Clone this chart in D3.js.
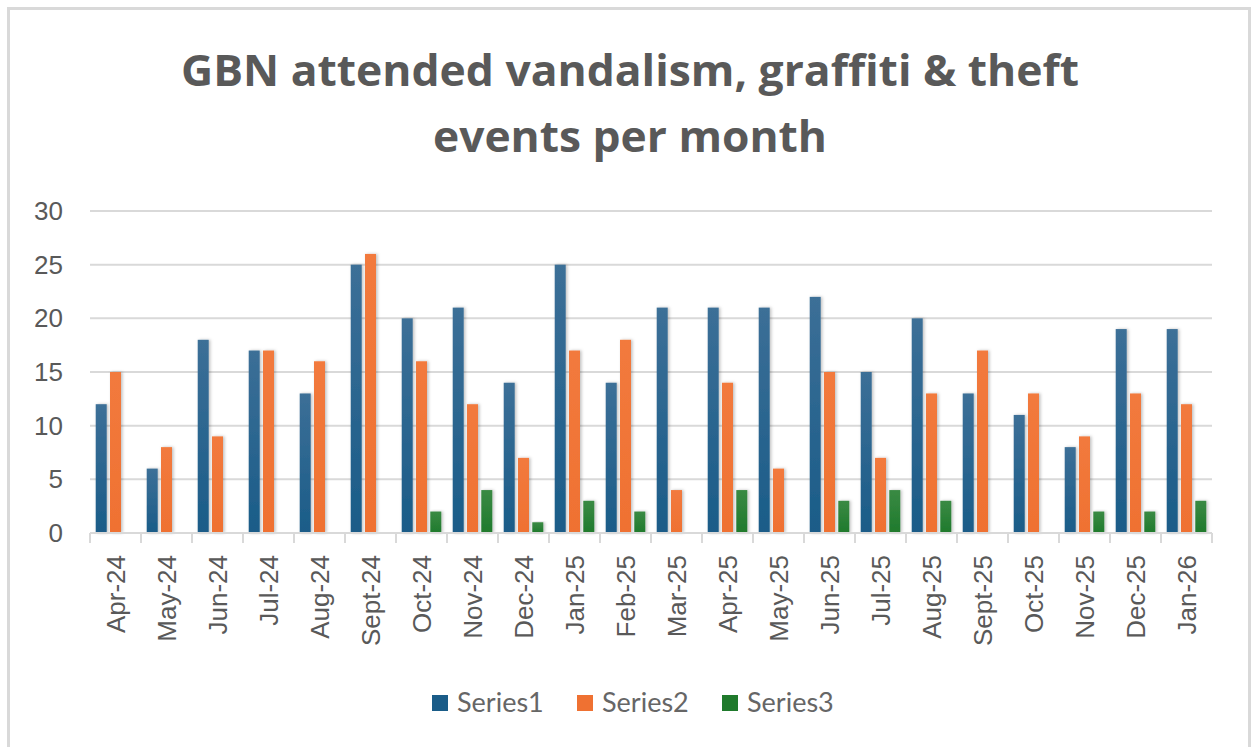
<!DOCTYPE html>
<html>
<head>
<meta charset="utf-8">
<script src="https://cdn.jsdelivr.net/npm/d3@7"></script>
<style>
  body { margin: 0; background: #fff; }
  svg { display: block; }
</style>
</head>
<body>
<div id="chart"></div>
<script>
// DATA
const months = ['Apr-24', 'May-24', 'Jun-24', 'Jul-24', 'Aug-24', 'Sept-24', 'Oct-24', 'Nov-24', 'Dec-24',
  'Jan-25', 'Feb-25', 'Mar-25', 'Apr-25', 'May-25', 'Jun-25', 'Jul-25', 'Aug-25', 'Sept-25', 'Oct-25',
  'Nov-25', 'Dec-25', 'Jan-26'];
const seriesNames = ['Series1', 'Series2', 'Series3'];
const series1 = [12, 6, 18, 17, 13, 25, 20, 21, 14, 25, 14, 21, 21, 21, 22, 15, 20, 13, 11, 8, 19, 19];
const series2 = [15, 8, 9, 17, 16, 26, 16, 12, 7, 17, 18, 4, 14, 6, 15, 7, 13, 17, 13, 9, 13, 12];
const series3 = [0, 0, 0, 0, 0, 0, 2, 4, 1, 3, 2, 0, 4, 0, 3, 4, 3, 0, 0, 2, 2, 3];
const yTicks = [0, 5, 10, 15, 20, 25, 30];
const titleLines = ['GBN attended vandalism, graffiti & theft', 'events per month'];

const allSeries = [series1, series2, series3];
const colors = ['#1a5c88', '#ef7132', '#1f7a2c'];
const colorsTop = ['#3c6f97', '#f27a3d', '#3a8a44'];

// CHART
const W = 1257, H = 747;
const margin = {left: 90, right: 45};

const svg = d3.select('#chart').append('svg')
  .attr('width', W)
  .attr('height', H);

const defs = svg.append('defs');
colors.forEach(function(c, i) {
  const g = defs.append('linearGradient')
    .attr('id', 'grad' + i)
    .attr('x1', 0).attr('y1', 0).attr('x2', 0).attr('y2', 1);
  g.append('stop').attr('offset', '0%').attr('stop-color', colorsTop[i]);
  g.append('stop').attr('offset', '100%').attr('stop-color', c);
});
const shadow = defs.append('filter').attr('id', 'shadow')
  .attr('x', '-50%').attr('y', '-10%').attr('width', '200%').attr('height', '120%');
shadow.append('feDropShadow')
  .attr('dx', 1.5).attr('dy', 0).attr('stdDeviation', 1.5)
  .attr('flood-color', '#000').attr('flood-opacity', 0.25);

// border
svg.append('rect')
  .attr('x', 8.5).attr('y', 8.5)
  .attr('width', 1241).attr('height', 760)
  .style('fill', '#fff')
  .style('stroke', '#d9d9d9')
  .style('stroke-width', 3);

// title
svg.append('g').selectAll('text')
  .data(titleLines)
  .enter().append('text')
  .attr('x', 630)
  .attr('y', function(d, i) { return 86 + i * 66; })
  .attr('text-anchor', 'middle')
  .attr('textLength', function(d, i) { return i === 0 ? 898 : 394; })
  .attr('lengthAdjust', 'spacingAndGlyphs')
  .style('font-family', '"Open Sans", "Noto Sans", sans-serif')
  .style('font-weight', 700)
  .style('font-size', '43px')
  .style('fill', '#595959')
  .text(function(d) { return d; });

const x0 = d3.scaleBand()
  .domain(months)
  .range([margin.left, W - margin.right])
  .padding(0);

const x1 = d3.scaleBand()
  .domain(seriesNames)
  .range([0, x0.bandwidth()])
  .paddingInner(0.23)
  .paddingOuter(0.4);

const y = d3.scaleLinear()
  .domain([0, 30])
  .range([533, 211]);

// gridlines
svg.append('g').selectAll('line')
  .data(yTicks.filter(function(d) { return d > 0; }))
  .enter().append('line')
  .attr('x1', x0.range()[0]).attr('x2', x0.range()[1])
  .attr('y1', function(d) { return y(d); })
  .attr('y2', function(d) { return y(d); })
  .style('stroke', '#d9d9d9')
  .style('stroke-width', 2);

// y labels
svg.append('g').selectAll('text')
  .data(yTicks)
  .enter().append('text')
  .attr('x', 63)
  .attr('y', function(d) { return y(d) + 9; })
  .attr('text-anchor', 'end')
  .style('font-family', '"Liberation Sans", Arial, sans-serif')
  .style('font-size', '26px')
  .style('fill', '#595959')
  .text(function(d) { return d; });

// bars
const groups = svg.append('g').selectAll('g')
  .data(months)
  .enter().append('g')
  .attr('transform', function(d) { return 'translate(' + x0(d) + ',0)'; });

groups.selectAll('rect')
  .data(function(d, i) {
    return seriesNames.map(function(s, j) { return {s: s, j: j, v: allSeries[j][i]}; });
  })
  .enter().append('rect')
  .filter(function(d) { return d.v > 0; })
  .attr('x', function(d) { return x1(d.s); })
  .attr('y', function(d) { return y(d.v); })
  .attr('width', x1.bandwidth())
  .attr('height', function(d) { return y(0) - y(d.v); })
  .style('fill', function(d) { return 'url(#grad' + d.j + ')'; })
  .style('filter', 'url(#shadow)');

// x axis
const xAxis = svg.append('g')
  .attr('transform', 'translate(0,' + y(0) + ')');
xAxis.append('line')
  .attr('x1', x0.range()[0]).attr('x2', x0.range()[1])
  .style('stroke', '#d9d9d9').style('stroke-width', 2);
xAxis.selectAll('.tick')
  .data(months.concat(['end']))
  .enter().append('line')
  .attr('x1', function(d, i) { return x0.range()[0] + i * x0.step(); })
  .attr('x2', function(d, i) { return x0.range()[0] + i * x0.step(); })
  .attr('y1', 0).attr('y2', 10)
  .style('stroke', '#d9d9d9').style('stroke-width', 2);

xAxis.selectAll('text')
  .data(months)
  .enter().append('text')
  .attr('transform', function(d) {
    return 'translate(' + (x0(d) + x0.bandwidth() / 2 + 9) + ',22) rotate(-90)';
  })
  .attr('text-anchor', 'end')
  .style('font-family', '"Liberation Sans", Arial, sans-serif')
  .style('font-size', '26px')
  .style('fill', '#595959')
  .text(function(d) { return d; });

// legend
const legendX = [432, 577, 722];
const legend = svg.append('g').selectAll('g')
  .data(seriesNames)
  .enter().append('g')
  .attr('transform', function(d, i) { return 'translate(' + legendX[i] + ',695)'; });
legend.append('rect')
  .attr('width', 16).attr('height', 16)
  .style('fill', function(d, i) { return colors[i]; });
legend.append('text')
  .attr('x', 25).attr('y', 17)
  .style('font-family', 'Lato, sans-serif')
  .style('font-size', '27px')
  .style('fill', '#666666')
  .text(function(d) { return d; });
</script>
</body>
</html>
